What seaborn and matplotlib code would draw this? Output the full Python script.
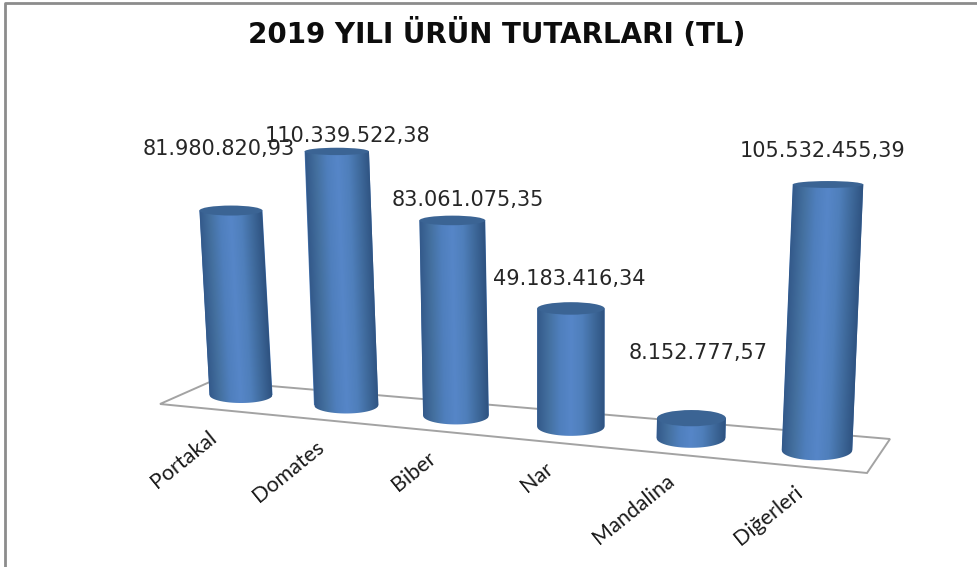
"""
2019 product amounts chart, drawn as leaning cylinders on a tilted floor.
"""

import numpy as np
import matplotlib
matplotlib.use('Agg')
import matplotlib.pyplot as plt
from matplotlib.colors import LinearSegmentedColormap
from matplotlib.patches import Ellipse, Polygon
from matplotlib.transforms import Affine2D
import seaborn as sns

categories = ['Portakal', 'Domates', 'Biber', 'Nar', 'Mandalina', 'Diğerleri']
values = [81980820.93, 110339522.38, 83061075.35, 49183416.34, 8152777.57, 105532455.39]
value_labels = ['81.980.820,93', '110.339.522,38', '83.061.075,35',
                '49.183.416,34', '8.152.777,57', '105.532.455,39']
title = '2019 YILI ÜRÜN TUTARLARI (TL)'

# label placement relative to the top of each cylinder, in pixels
label_shift = [(-12, -62), (11, -15), (15, -20), (-2, -29), (7, -65), (-5, -33)]

BAR_WIDTH = 0.8
PX_PER_UNIT = 2.25e-6
EDGE = '#a3a3a3'
TOP_COLOR = '#3b6494'

sns.set_theme(style='white')
plt.rcParams['font.family'] = ['DejaVu Sans']

shade = LinearSegmentedColormap.from_list(
    'cyl', ['#33598a', '#44709f', '#4f7fbd', '#5686c8', '#4f7fbb', '#3f6a9c', '#2e5280'])


def perspective(i):
    """Base centre of bar i in pixels, and its size factor."""
    s = 1 / (1 - 0.02133 * i)
    base_x = (97.77 * i + 241) * s
    base_y = 395 + 0.096 * (base_x - 241)
    return base_x, base_y, s


fig = plt.figure(figsize=(9.78, 5.67), dpi=100)
ax = fig.add_axes([0, 0, 1, 1])
sns.barplot(x=categories, y=values, color='#4f7fbd', saturation=1, width=BAR_WIDTH, ax=ax)
bars = list(ax.patches)
ax.set_xlim(0, 978)
ax.set_ylim(567, 0)
ax.axis('off')

# frame of the picture, only top and left are visible
ax.plot([5, 5, 978], [567, 2.5, 2.5], color='#8c8c8c', lw=2, clip_on=False, zorder=1)

# floor of the chart
ax.add_patch(Polygon([(160, 404), (212, 381), (890, 439), (867, 473)], closed=True,
                     fill=False, edgecolor=EDGE, lw=1.4, zorder=1))

for i, bar in enumerate(bars):
    value = bar.get_height()
    base_x, base_y, s = perspective(i)
    half_w = 31.5 * s
    height = value * PX_PER_UNIT * s
    lean = (base_x - 568) / 6000
    minor = 8.5 - 0.019 * height
    base_minor = 8 + 0.4 * i

    # maps (category position, value) onto the leaning cylinder body
    to_px = Affine2D.from_values(half_w / (BAR_WIDTH / 2), 0,
                                 lean * PX_PER_UNIT * s, -PX_PER_UNIT * s,
                                 base_x - i * half_w / (BAR_WIDTH / 2), base_y)
    bar.set_transform(to_px + ax.transData)
    bar.set_edgecolor('none')
    bar.set_zorder(2)

    top_x = base_x + lean * height
    top_y = base_y - height

    t = np.linspace(np.pi, 0, 30)
    arc = np.column_stack([base_x + half_w * np.cos(t), base_y + base_minor * np.sin(t)])
    body = np.vstack([[(top_x - half_w, top_y)], arc, [(top_x + half_w, top_y)]])
    clip = Polygon(body, closed=True, transform=ax.transData)

    x0 = bar.get_x()
    below = -14 / (PX_PER_UNIT * s)
    img = ax.imshow(np.linspace(0, 1, 128)[None, :], cmap=shade, aspect='auto',
                    extent=(x0, x0 + BAR_WIDTH, below, value), origin='lower',
                    interpolation='bilinear', zorder=3)
    img.set_transform(to_px + ax.transData)
    img.set_clip_path(clip)

    ax.add_patch(Ellipse((top_x, top_y), 2 * half_w, 2 * minor, facecolor=TOP_COLOR,
                         edgecolor='none', zorder=4))

    dx, dy = label_shift[i]
    ax.annotate(value_labels[i], (top_x, top_y), xytext=(dx * 0.72, -dy * 0.72),
                textcoords='offset points', ha='center', va='center',
                fontsize=15, color='#262626', zorder=5)

    ax.text(base_x - 33 + 2 * i, base_y + 32, categories[i], rotation=39, ha='right', va='top',
            rotation_mode='anchor', fontsize=15.5, family='Lato', color='#1a1a1a', zorder=5)

ax.set_xlim(0, 978)
ax.set_ylim(567, 0)

ax.text(497, 34, title, ha='center', va='center', fontsize=20, fontweight='bold',
        family='DejaVu Sans', color='#0d0d0d')

fig.savefig('out.png', dpi=100)
